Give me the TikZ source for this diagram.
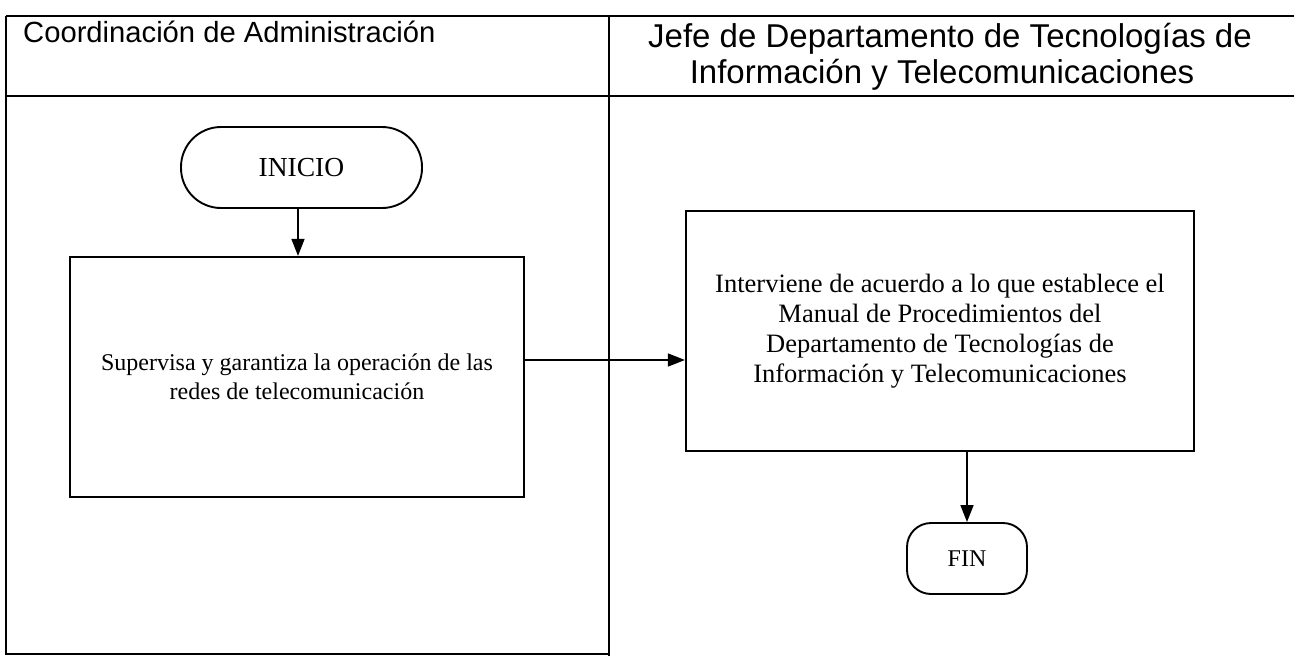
\documentclass[tikz,border=0pt]{standalone}
\usepackage{fontspec}
\setmainfont{Liberation Serif}
\newfontfamily\hdrfont{Liberation Sans}
\usetikzlibrary{arrows.meta}
\begin{document}
\begin{tikzpicture}[x=1pt,y=-1pt,
  frame/.style={line width=1.6pt},
  procbox/.style={draw, line width=2.2pt, minimum height=240pt, inner sep=0pt, align=center},
  term/.style={draw, line width=1.9pt, inner sep=0pt, align=center},
  arr/.style={line width=1.6pt, -{Triangle[length=17pt,width=13pt]}},
  hdrl/.style={font=\hdrfont\fontsize{29.2}{34}\selectfont},
  hdrr/.style={font=\hdrfont\fontsize{33}{36}\selectfont}]
\useasboundingbox (0,0) rectangle (1294,656);
% lane frame
\draw[frame] (6,16) -- (1294,16);
\draw[frame] (6,96) -- (1294,96);
\draw[frame] (6,16) -- (6,654) -- (609,654);
\draw[frame] (609,16) -- (609,656);
% headers
\node[hdrl, anchor=base west, inner sep=0pt] (hleft) at (23,42) {Coordinación de Administración};
\node[hdrr, anchor=base, inner sep=0pt] (hr1) at (950,47) {Jefe de Departamento de Tecnologías de};
\node[hdrr, anchor=base, inner sep=0pt] (hr2) at (942,83) {Información y Telecomunicaciones};
% shapes
\node[term, minimum width=241pt, minimum height=81pt, rounded corners=40pt,
      font=\fontsize{27.5}{30}\selectfont] (inicio) at (301.5,167.5) {INICIO};
\node[procbox, minimum width=454pt, font=\fontsize{24}{29}\selectfont] (box1) at (297,377)
  {Supervisa y garantiza la operación de las\\redes de telecomunicación};
\node[procbox, minimum width=508pt, font=\fontsize{26.5}{30}\selectfont] (box2) at (940,331)
  {Interviene de acuerdo a lo que establece el\\Manual de Procedimientos del\\Departamento de Tecnologías de\\Información y Telecomunicaciones};
\node[term, minimum width=120pt, minimum height=71pt, rounded corners=24pt,
      font=\fontsize{24}{28}\selectfont] (fin) at (967,558.5) {FIN};
% connectors
\draw[arr] ([xshift=-3.5pt]inicio.south) -- ([xshift=-3.5pt]inicio.south |- box1.north);
\draw[arr] ([yshift=17pt]box1.east) -- ([yshift=17pt]box1.east -| box2.west);
\draw[arr] (fin.north |- box2.south) -- (fin.north);
\end{tikzpicture}
\end{document}
